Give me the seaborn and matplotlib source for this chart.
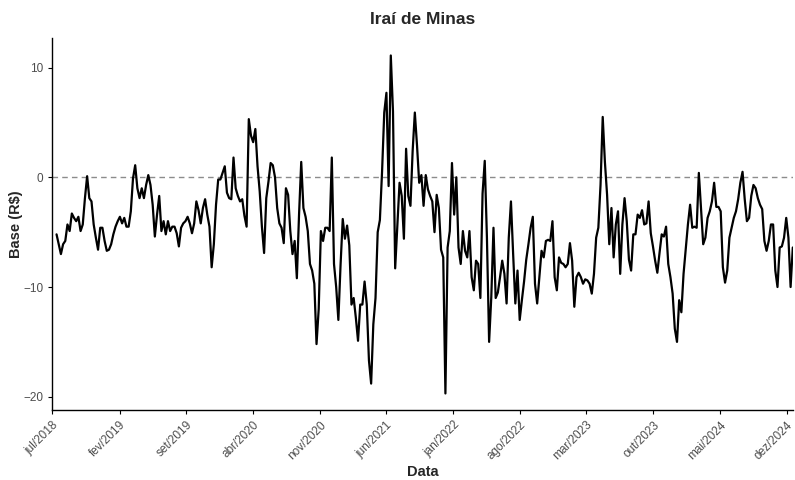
import pandas as pd
import numpy as np
import matplotlib
matplotlib.use("Agg")
import matplotlib.pyplot as plt
import seaborn as sns

# --------- DATA (weekly base, R$) ----------
base_2018 = [-5.2, -6.1, -7.0, -6.1, -5.8, -4.3, -4.9, -3.3, -3.7, -4.0,
             -3.6, -4.9, -4.3, -1.9, 0.1, -1.9, -2.2, -4.3, -5.5, -6.6,
             -4.6, -4.6, -5.8, -6.7, -6.6, -6.1, -5.2, -4.5, -4.0, -3.6,
             -4.2, -3.7, -4.5, -4.5, -3.1, -0.1, 1.1, -1.0, -1.9, -1.0,
             -1.9, -0.7, 0.2]
base_2019 = [-0.7, -2.5, -5.4, -3.4, -1.7, -4.9, -4.0, -5.2, -4.0, -4.9,
             -4.5, -4.5, -5.1, -6.3, -4.6, -4.2, -4.0, -3.6, -4.2, -5.1,
             -4.2, -2.2, -3.0, -4.2, -2.8, -2.0, -3.4, -4.5, -8.2, -6.1,
             -2.5, -0.2, -0.2, 0.4, 1.0, -1.4, -1.9, -2.0, 1.8, -1.0,
             -1.7, -2.2, -2.0, -3.5]
base_2020 = [-4.5, 5.3, 3.8, 3.2, 4.4, 1.0, -1.3, -4.5, -6.9, -1.9,
             -0.4, 1.3, 1.1, 0.0, -2.8, -4.2, -4.6, -6.0, -1.0, -1.6,
             -4.9, -7.0, -5.8, -9.2, -3.4, 1.4, -2.8, -3.6, -4.9, -7.9,
             -8.5, -9.7, -15.2, -12.0, -4.9, -5.8, -4.6, -4.6, -4.9, 1.8]
base_2021 = [-7.9, -10.0, -13.0, -8.0, -3.8, -5.6, -4.4, -6.2, -11.6, -11.0,
             -12.8, -14.9, -11.6, -11.6, -9.5, -11.6, -16.7, -18.8, -13.4, -11.0,
             -5.0, -3.9, 0.5, 5.9, 7.7, -0.8, 11.1, 6.0, -8.3, -4.4,
             -0.5, -1.7, -5.6, 2.6, -1.7, -2.6, 2.4, 5.9, 2.9, -0.5,
             0.2, -2.6, 0.2, -1.1, -1.7, -2.2, -5.0]
base_2022 = [-1.6, -2.8, -6.6, -7.3, -19.7, -6.4, -4.9, 1.3, -3.4, 0.0,
             -6.4, -7.9, -4.9, -6.7, -7.3, -4.9, -9.1, -10.3, -7.6, -7.9,
             -11.0, -1.5, 1.5, -5.5, -15.0, -10.9, -4.6, -11.0, -10.5, -9.1,
             -7.6, -8.8, -11.5, -5.5, -2.2, -7.0, -11.5, -8.5, -13.0, -11.2,
             -9.5, -7.5, -6.1]
base_2023 = [-4.6, -3.6, -9.7, -11.5, -9.1, -6.7, -7.3, -5.8, -5.7, -5.8,
             -4.0, -9.1, -10.3, -7.3, -7.8, -7.9, -8.2, -7.9, -6.0, -7.6,
             -11.8, -9.1, -8.7, -9.1, -9.7, -9.3, -9.4, -9.7, -10.6, -8.8,
             -5.5, -4.6, -0.7, 5.5, 1.4, -1.6, -6.1, -2.8, -7.3, -4.3,
             -3.1]
base_2024a = [-8.8, -4.3, -1.9, -4.0, -7.5, -8.5, -5.2, -5.2, -3.4, -3.7,
              -3.0, -4.3, -4.2, -2.2, -5.1, -6.3, -7.6, -8.7, -6.9, -5.2,
              -5.4, -4.5, -7.9, -9.1, -10.6, -13.8, -15.0, -11.2, -12.3, -8.8,
              -6.6, -4.3, -2.5, -4.6, -4.5, -4.6, 0.4, -2.8, -6.1, -5.5,
              -3.7, -3.1, -2.2, -0.5]
base_2024b = [-2.7, -2.7, -3.1, -8.2, -9.6, -8.5, -5.5, -4.6, -3.7, -3.1,
              -2.0, -0.5, 0.5, -2.0, -4.0, -3.7, -1.7, -0.7, -1.0, -1.9,
              -2.5, -2.9, -5.8, -6.7, -5.8, -4.3, -4.3, -8.5, -10.0, -6.4,
              -6.3, -5.5, -3.7, -5.5, -10.0, -6.4]

base = base_2018 + base_2019 + base_2020 + base_2021 + base_2022 + base_2023 + base_2024a + base_2024b
first_date = "2018-07-14"
last_date = "2024-12-20"

tick_labels = ["jul/2018", "fev/2019", "set/2019", "abr/2020", "nov/2020", "jun/2021",
               "jan/2022", "ago/2022", "mar/2023", "out/2023", "mai/2024", "dez/2024"]

df = pd.DataFrame({
    "Data": pd.date_range(first_date, last_date, periods=len(base)),
    "Base": base,
})

# --------- PLOT ----------
sns.set_style("white")
plt.rcParams["font.family"] = ["Liberation Sans", "DejaVu Sans"]

fig = plt.figure(figsize=(7.95, 4.8), dpi=100)
ax = fig.add_axes([0.066, 0.146, 0.932, 0.775])

ax.axhline(0, color="#8c8c8c", linestyle=(0, (4, 3)), linewidth=1.0)
sns.lineplot(data=df, x="Data", y="Base", color="black", linewidth=1.6, ax=ax)

tick_dates = pd.date_range("2018-07-01", periods=len(tick_labels), freq="7MS")
ax.set_xticks(tick_dates)
ax.set_xticklabels(tick_labels, rotation=45, ha="right", rotation_mode="anchor")
ax.set_xlim(pd.Timestamp("2018-07-01"), pd.Timestamp("2024-12-22"))

ax.set_ylim(-21.2, 12.7)
ax.set_yticks([-20, -10, 0, 10])

ax.tick_params(axis="both", bottom=True, left=True, labelcolor="#4d4d4d",
               labelsize=8.5, length=3, width=0.8, color="black")

for side in ["top", "right"]:
    ax.spines[side].set_visible(False)
for side in ["left", "bottom"]:
    ax.spines[side].set_color("black")
    ax.spines[side].set_linewidth(1.0)

ax.set_title("Iraí de Minas", fontsize=12.5, fontweight="bold", pad=10)
ax.set_xlabel("Data", fontsize=10.5, fontweight="bold", labelpad=2)
ax.set_ylabel("Base (R$)", fontsize=10.5, fontweight="bold", labelpad=0)

fig.savefig("out.png", dpi=100)
